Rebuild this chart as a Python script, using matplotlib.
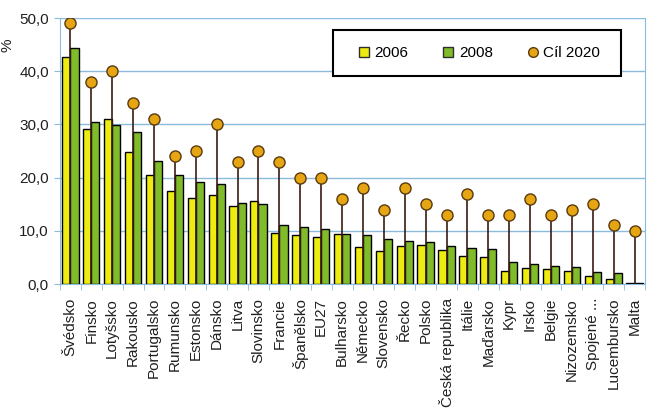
import numpy as np
import matplotlib.pyplot as plt
from matplotlib.lines import Line2D
from matplotlib.patches import Rectangle

plt.rcParams['font.family'] = ['Liberation Sans', 'DejaVu Sans']

# ===== DATA =====
zeme = ["Švédsko", "Finsko", "Lotyšsko", "Rakousko", "Portugalsko", "Rumunsko",
        "Estonsko", "Dánsko", "Litva", "Slovinsko", "Francie", "Španělsko", "EU27",
        "Bulharsko", "Německo", "Slovensko", "Řecko", "Polsko", "Česká republika",
        "Itálie", "Maďarsko", "Kypr", "Irsko", "Belgie", "Nizozemsko", "Spojené ...",
        "Lucembursko", "Malta"]
r2006 = [42.7, 29.2, 31.1, 24.8, 20.5, 17.5, 16.1, 16.7, 14.7, 15.6, 9.6, 9.2, 8.8,
         9.4, 7.0, 6.2, 7.1, 7.3, 6.4, 5.3, 5.1, 2.4, 3.0, 2.8, 2.5, 1.5, 0.9, 0.2]
r2008 = [44.4, 30.4, 29.8, 28.5, 23.1, 20.5, 19.1, 18.8, 15.2, 15.0, 11.1, 10.7, 10.3,
         9.4, 9.2, 8.5, 8.1, 7.9, 7.1, 6.8, 6.6, 4.1, 3.8, 3.4, 3.2, 2.3, 2.1, 0.2]
cil2020 = [49, 38, 40, 34, 31, 24, 25, 30, 23, 25, 23, 20, 20,
           16, 18, 14, 18, 15, 13, 17, 13, 13, 16, 13, 14, 15, 11, 10]
# ================

c_2006 = '#ecec10'
c_2008 = '#80bb2a'
c_cil = '#e6a512'
c_grid = '#8cbcdc'

fig = plt.figure(figsize=(6.49, 4.15), dpi=100)
ax = fig.add_axes([60 / 649, 131 / 415, 585 / 649, 266 / 415])

x = np.arange(len(zeme))
w = 0.39
ax.bar(x - w / 2, r2006, w, color=c_2006, edgecolor='black', linewidth=1, zorder=3)
ax.bar(x + w / 2, r2008, w, color=c_2008, edgecolor='black', linewidth=1, zorder=3)
ax.vlines(x, 0, cil2020, color='#3a1c14', linewidth=1.2, zorder=4)
ax.plot(x, cil2020, 'o', color=c_cil, markeredgecolor='#5a3a10', markersize=8,
        markeredgewidth=1, zorder=5)

ax.set_xlim(-0.5, len(zeme) - 0.5)
ax.set_ylim(0, 50)
ax.set_yticks(np.arange(0, 51, 10))
ax.set_yticklabels([f"{v:.1f}".replace('.', ',') for v in np.arange(0, 51, 10)],
                   fontsize=11, color='#202020')
ax.yaxis.grid(True, color=c_grid, linewidth=1, zorder=0)
ax.set_axisbelow(True)

ax.set_xticks(x)
ax.set_xticklabels(zeme, rotation=90, fontsize=11, va='top', ha='center', color='#202020')
ax.tick_params(axis='x', which='major', length=0, pad=10)
ax.set_xticks(np.arange(-0.5, len(zeme), 1), minor=True)
ax.tick_params(axis='x', which='minor', length=4, color=c_grid)
ax.tick_params(axis='y', length=4, color=c_grid, pad=4)

for s in ['left', 'right', 'bottom']:
    ax.spines[s].set_color(c_grid)
ax.spines['top'].set_visible(False)

fig.text(8 / 649, 1 - 45 / 415, '%', rotation=90, fontsize=11, ha='center', va='center',
         color='#202020')

# legenda
fig.patches.append(Rectangle((333 / 649, 1 - 76 / 415), 288 / 649, 46 / 415,
                             transform=fig.transFigure, facecolor='white',
                             edgecolor='black', linewidth=1.5, zorder=5))
handles = [
    Line2D([], [], marker='s', linestyle='none', markersize=7, color=c_2006,
           markeredgecolor='#303030'),
    Line2D([], [], marker='s', linestyle='none', markersize=7, color=c_2008,
           markeredgecolor='#303030'),
    Line2D([], [], marker='o', linestyle='none', markersize=7, color=c_cil,
           markeredgecolor='#5a3a10'),
]
leg = fig.legend(handles, ['2006', '2008', 'Cíl 2020'], ncol=3, frameon=False,
                 loc='center', bbox_to_anchor=(479 / 649, 1 - 53 / 415), fontsize=11,
                 handlelength=0.8, handletextpad=0.3, columnspacing=2.2)
leg.set_zorder(6)

fig.savefig('out.png', dpi=100)
